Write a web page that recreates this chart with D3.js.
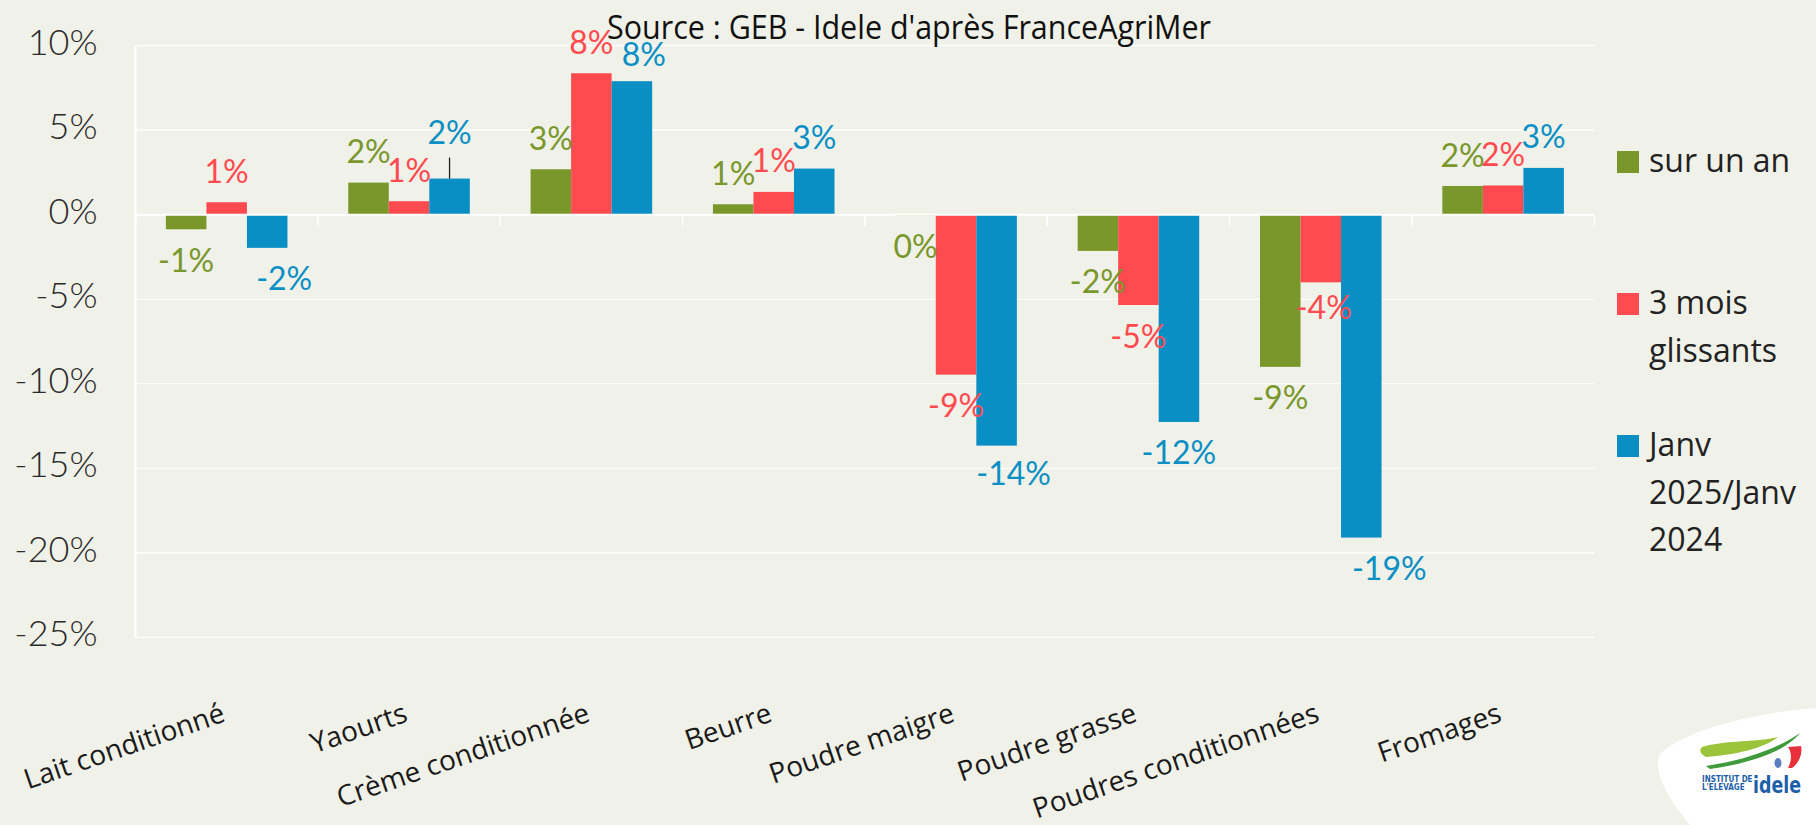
<!DOCTYPE html>
<html>
<head>
<meta charset="utf-8">
<script src="https://cdn.jsdelivr.net/npm/d3@7"></script>
<style>
  body { margin: 0; background: #f0f1e8; }
  svg { display: block; }
</style>
</head>
<body>
<div id="chart"></div>
<script>
// values (%)
const categories = ["Lait conditionné", "Yaourts", "Crème conditionnée", "Beurre",
  "Poudre maigre", "Poudre grasse", "Poudres conditionnées", "Fromages"];
const seriesNames = ["sur un an", "3 mois glissants", "Janv 2025/Janv 2024"];
const surUnAn = [-0.86, 1.9, 2.69, 0.62, -0.05, -2.14, -9.0, 1.7];
const troisMois = [0.74, 0.8, 8.37, 1.35, -9.46, -5.34, -4.0, 1.73];
const janv2025 = [-1.96, 2.14, 7.9, 2.73, -13.66, -12.26, -19.1, 2.77];
const yTicks = [10, 5, 0, -5, -10, -15, -20, -25];
const legendLines = [["sur un an"], ["3 mois", "glissants"], ["Janv", "2025/Janv", "2024"]];
const sourceText = "Source : GEB - Idele d'après FranceAgriMer";

const colors = ["#7a972c", "#ff4b50", "#0a8fc5"];
const allSeries = [surUnAn, troisMois, janv2025];

const W = 1816, H = 825;
const svg = d3.select("#chart").append("svg")
  .attr("width", W).attr("height", H);

svg.append("rect").attr("width", W).attr("height", H).attr("fill", "#f0f1e8");

const x = d3.scaleBand().domain(categories).range([135.5, 1594.3]);
const bw = x.bandwidth();
const x1 = d3.scaleBand().domain(d3.range(seriesNames.length)).range([bw / 6, bw * 5 / 6]);
const y = d3.scaleLinear().domain([-25, 10]).range([637.3, 45.7]);

// gridlines
svg.append("g").selectAll("line").data(yTicks).join("line")
  .attr("x1", x.range()[0]).attr("x2", x.range()[1])
  .attr("y1", d => y(d)).attr("y2", d => y(d))
  .attr("stroke", "#ffffff").attr("stroke-width", 1.2);

// left axis line
svg.append("line")
  .attr("x1", x.range()[0]).attr("x2", x.range()[0])
  .attr("y1", y(10)).attr("y2", y(-25))
  .attr("stroke", "#ffffff").attr("stroke-width", 2);

// y tick labels
const yAxis = svg.append("g")
  .attr("transform", `translate(${x.range()[0]},-3)`)
  .call(d3.axisLeft(y).tickValues(yTicks).tickSize(0).tickPadding(38).tickFormat(d => d + "%"));
yAxis.select(".domain").remove();
yAxis.selectAll("text")
  .attr("fill", "#2a2a2a")
  .style("font-family", "Lato, 'Open Sans', sans-serif")
  .style("font-weight", 300)
  .style("font-size", "36px");

// bars
const groups = svg.append("g").selectAll("g").data(categories).join("g")
  .attr("transform", d => `translate(${x(d)},0)`);

groups.selectAll("rect")
  .data((c, i) => allSeries.map((s, k) => ({ k, v: s[i] })))
  .join("rect")
  .attr("x", d => x1(d.k))
  .attr("width", x1.bandwidth())
  .attr("y", d => y(Math.max(0, d.v)))
  .attr("height", d => Math.abs(y(d.v) - y(0)))
  .attr("fill", d => colors[d.k]);

// zero axis + category ticks
svg.append("line")
  .attr("x1", x.range()[0]).attr("x2", x.range()[1])
  .attr("y1", y(0)).attr("y2", y(0))
  .attr("stroke", "#ffffff").attr("stroke-width", 2);
svg.append("g").selectAll("line")
  .data(categories.map(c => x(c)).concat([x.range()[1]]))
  .join("line")
  .attr("x1", d => d).attr("x2", d => d)
  .attr("y1", y(0)).attr("y2", y(0) + 11)
  .attr("stroke", "#ffffff").attr("stroke-width", 1.5);

// data labels (a few were dragged by hand in the original)
const nudges = { "2-0": [17, 0], "2-1": [0, -15], "2-2": [12, 4], "2-4": [17, -3], "2-6": [28, 0], "1-6": [3, -6] };
const fmt = v => Math.round(v) + "%";
const labelData = [];
allSeries.forEach((s, k) => s.forEach((v, i) => {
  const cx = x(categories[i]) + x1(k) + x1.bandwidth() / 2;
  const end = y(v);
  const n = nudges[k + "-" + i] || [0, 0];
  const cy = (v >= 0 ? end - 31 : end + 31) + n[1];
  labelData.push({ k, v, cx, end, lx: cx + n[0], ly: cy, leader: n[1] < -10 });
}));

svg.append("g").selectAll("line").data(labelData.filter(d => d.leader)).join("line")
  .attr("x1", d => d.cx).attr("x2", d => d.cx)
  .attr("y1", d => d.ly + 25).attr("y2", d => d.end)
  .attr("stroke", "#222").attr("stroke-width", 1.3);

svg.append("g").selectAll("text").data(labelData).join("text")
  .attr("x", d => d.lx).attr("y", d => d.ly).attr("dy", "0.36em")
  .attr("text-anchor", "middle")
  .attr("fill", d => colors[d.k])
  .style("font-family", "Lato, 'Open Sans', sans-serif")
  .style("font-size", "32px")
  .text(d => fmt(d.v));

// category labels
svg.append("g").selectAll("text").data(categories).join("text")
  .attr("transform", d => `translate(${x(d) + bw / 2},721) rotate(-19)`)
  .attr("text-anchor", "end")
  .attr("fill", "#1a1a1a")
  .style("font-family", "'Open Sans', sans-serif")
  .style("font-size", "28px")
  .text(d => d);

// title
svg.append("text")
  .attr("x", 607).attr("y", 39)
  .attr("textLength", 604).attr("lengthAdjust", "spacingAndGlyphs")
  .attr("fill", "#111")
  .style("font-family", "'Liberation Sans Narrow', 'Open Sans', sans-serif")
  .style("font-size", "33px")
  .text(sourceText);

// legend
const legend = svg.append("g").selectAll("g").data(legendLines).join("g")
  .attr("transform", (d, i) => `translate(1617,${151 + i * 142})`);
legend.append("rect").attr("width", 22).attr("height", 22)
  .attr("fill", (d, i) => colors[i]);
legend.selectAll("text").data(d => d).join("text")
  .attr("x", 32).attr("y", (d, j) => 21 + j * 47.5)
  .attr("fill", "#222")
  .style("font-family", "'Open Sans', sans-serif")
  .style("font-size", "32px")
  .text(d => d);

// idele logo in the corner
const logo = svg.append("g");
logo.append("path")
  .attr("d", "M1816,708 C1760,712 1690,728 1662,752 C1652,762 1660,790 1690,825 L1816,825 Z")
  .attr("fill", "#ffffff");
logo.append("path")
  .attr("d", "M1702,747 C1725,740 1760,742 1778,737 C1765,748 1735,755 1706,757 C1700,754 1699,750 1702,747 Z")
  .attr("fill", "#9cc43a");
logo.append("path")
  .attr("d", "M1706,766 C1745,760 1775,750 1800,733 C1788,748 1760,762 1710,769 Z")
  .attr("fill", "#3f9a3c");
logo.append("path")
  .attr("d", "M1788,747 L1801,746 C1803,755 1798,764 1792,768 L1788,768 C1792,760 1792,753 1788,747 Z")
  .attr("fill", "#e8313a");
logo.append("ellipse").attr("cx", 1778).attr("cy", 763).attr("rx", 3.5).attr("ry", 5)
  .attr("fill", "#5b7fc0");
logo.append("text").attr("x", 1702).attr("y", 782)
  .attr("fill", "#1d5fa8").style("font-family", "'Liberation Sans Narrow', 'DejaVu Sans Condensed', sans-serif")
  .style("font-weight", 700).style("font-size", "8px").text("INSTITUT DE");
logo.append("text").attr("x", 1702).attr("y", 790)
  .attr("fill", "#1d5fa8").style("font-family", "'Liberation Sans Narrow', 'DejaVu Sans Condensed', sans-serif")
  .style("font-weight", 700).style("font-size", "8px").text("L'ELEVAGE");
logo.append("text").attr("x", 1753).attr("y", 793)
  .attr("textLength", 48).attr("lengthAdjust", "spacingAndGlyphs")
  .attr("fill", "#1d5fa8").style("font-family", "'DejaVu Sans', sans-serif")
  .style("font-weight", 700).style("font-size", "23px").text("idele");
</script>
</body>
</html>
